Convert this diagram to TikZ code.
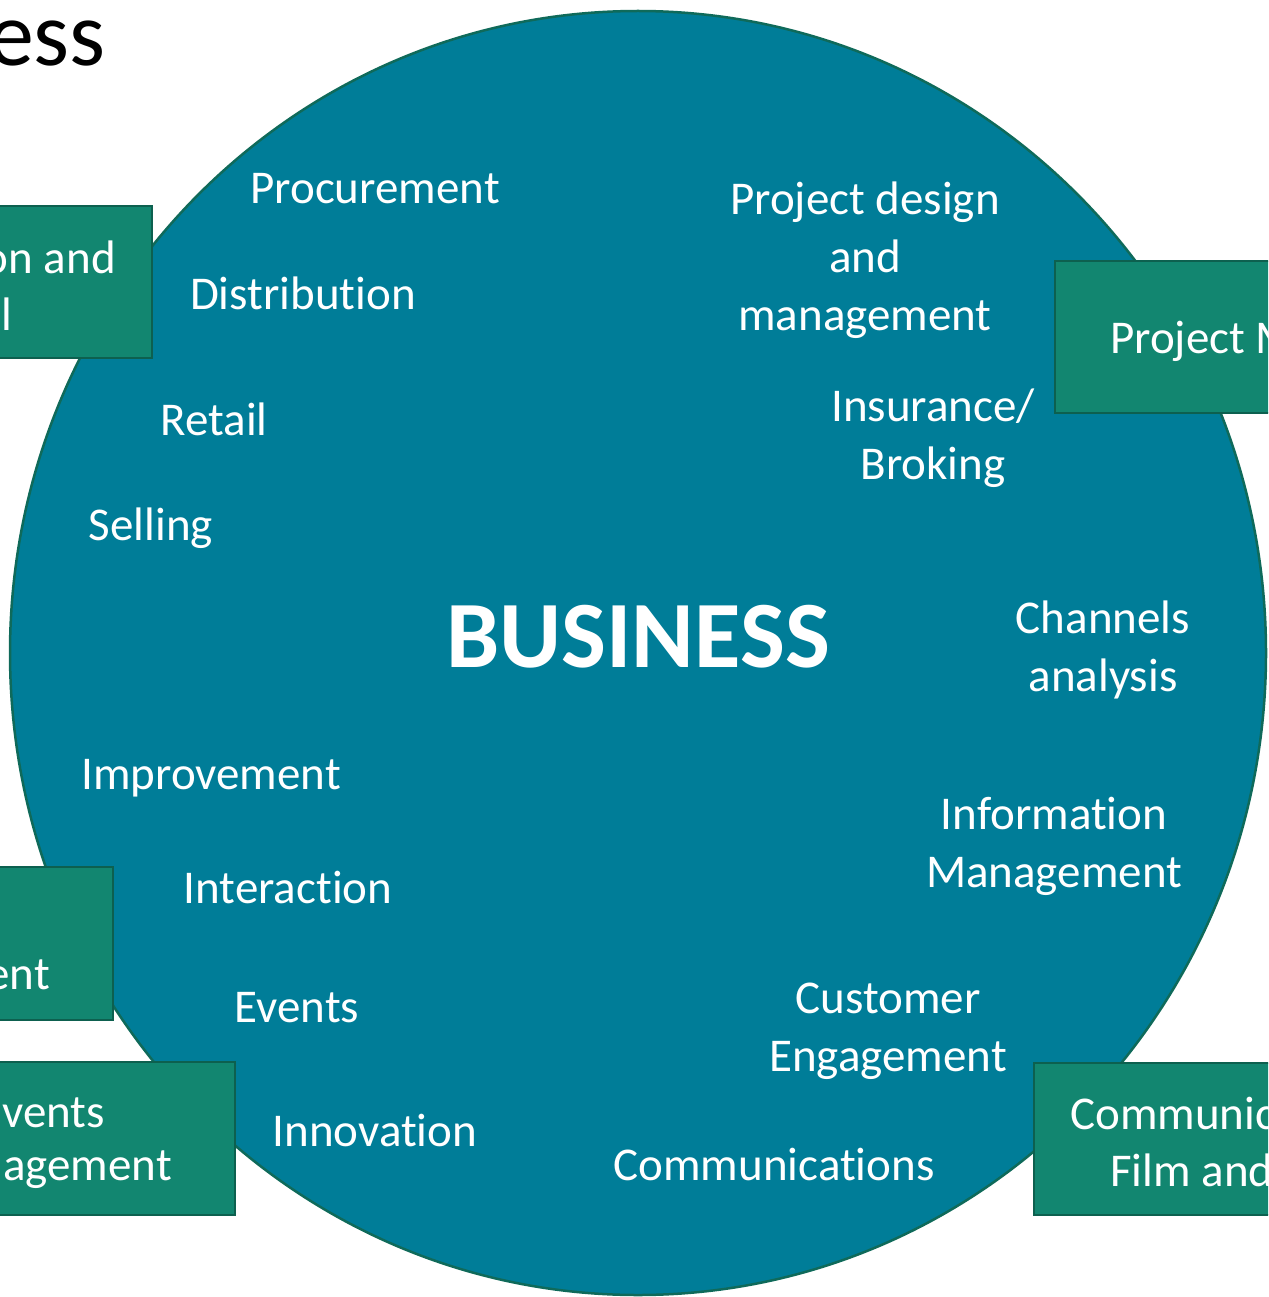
\documentclass[tikz,border=0pt]{standalone}
\usepackage{fontspec}
\setmainfont{Carlito}[Ligatures=NoCommon]
\definecolor{circfill}{HTML}{007D98}
\definecolor{circline}{HTML}{0F6A5A}
\definecolor{boxfill}{HTML}{128670}
\definecolor{boxline}{HTML}{0D604F}
\begin{document}
\begin{tikzpicture}[x=1pt,y=-1pt,
	topic/.style = {text=white, font=\fontsize{47}{58}\selectfont, align=center, inner sep=0pt},
	area/.style = {fill=boxfill, draw=boxline, line width=2.5pt}]
		\useasboundingbox (0,0) rectangle (1268,1297);
		\clip (0,0) rectangle (1268,1297);
		% title (cut off)
		\node[anchor=base east, inner sep=0pt, font=\fontsize{92}{92}\selectfont] (title) at (106,66) {ess};
		% the big circle
		\draw[fill=circfill, draw=circline, line width=2.5pt] (638,653) ellipse (628 and 642);
		\node[text=white, inner sep=0pt, font=\fontsize{95}{95}\selectfont\bfseries] (business) at (638,637) {BUSINESS};
		% topics
		\node[topic] (procure) at (375,189) {Procurement};
		\node[topic] (distrib) at (303,293) {Distribution};
		\node[topic] (retail) at (214,419) {Retail};
		\node[topic] (selling) at (151,528) {Selling};
		\node[topic] (improve) at (211,778) {Improvement};
		\node[topic] (interact) at (288,887) {Interaction};
		\node[topic] (events) at (297,1008) {Events};
		\node[topic] (innov) at (375,1130) {Innovation};
		\node[topic] (design) at (865,260) {Project design\\and\\management};
		\node[topic] (insure) at (933,438) {Insurance/\\Broking};
		\node[topic] (channels) at (1103,650) {Channels\\analysis};
		\node[topic] (infoman) at (1054,846) {Information\\Management};
		\node[topic] (custeng) at (888,1031) {Customer\\Engagement};
		\node[topic] (comms) at (774,1164) {Communications};
		% side boxes
		\draw[area] (-10,206) rectangle (152,358);
		\draw[area] (1055,261) rectangle (1290,413);
		\draw[area] (-10,867) rectangle (113,1020);
		\draw[area] (-10,1062) rectangle (235,1215);
		\draw[area] (1034,1063) rectangle (1290,1215);
		\node[topic, anchor=east] (boxa1) at (116,257) {on and};
		\node[topic, anchor=east] (boxa2) at (12,314) {l};
		\node[topic, anchor=west] (boxb) at (1110,341) {Project M};
		\node[topic, anchor=east] (boxc) at (50,975) {ent};
		\node[topic, anchor=east] (boxd1) at (105,1113) {vents};
		\node[topic, anchor=east] (boxd2) at (172,1170) {agement};
		\node[topic, anchor=west] (boxe1) at (1070,1113) {Communic};
		\node[topic, anchor=west] (boxe2) at (1110,1170) {Film and};
	\end{tikzpicture}
\end{document}
